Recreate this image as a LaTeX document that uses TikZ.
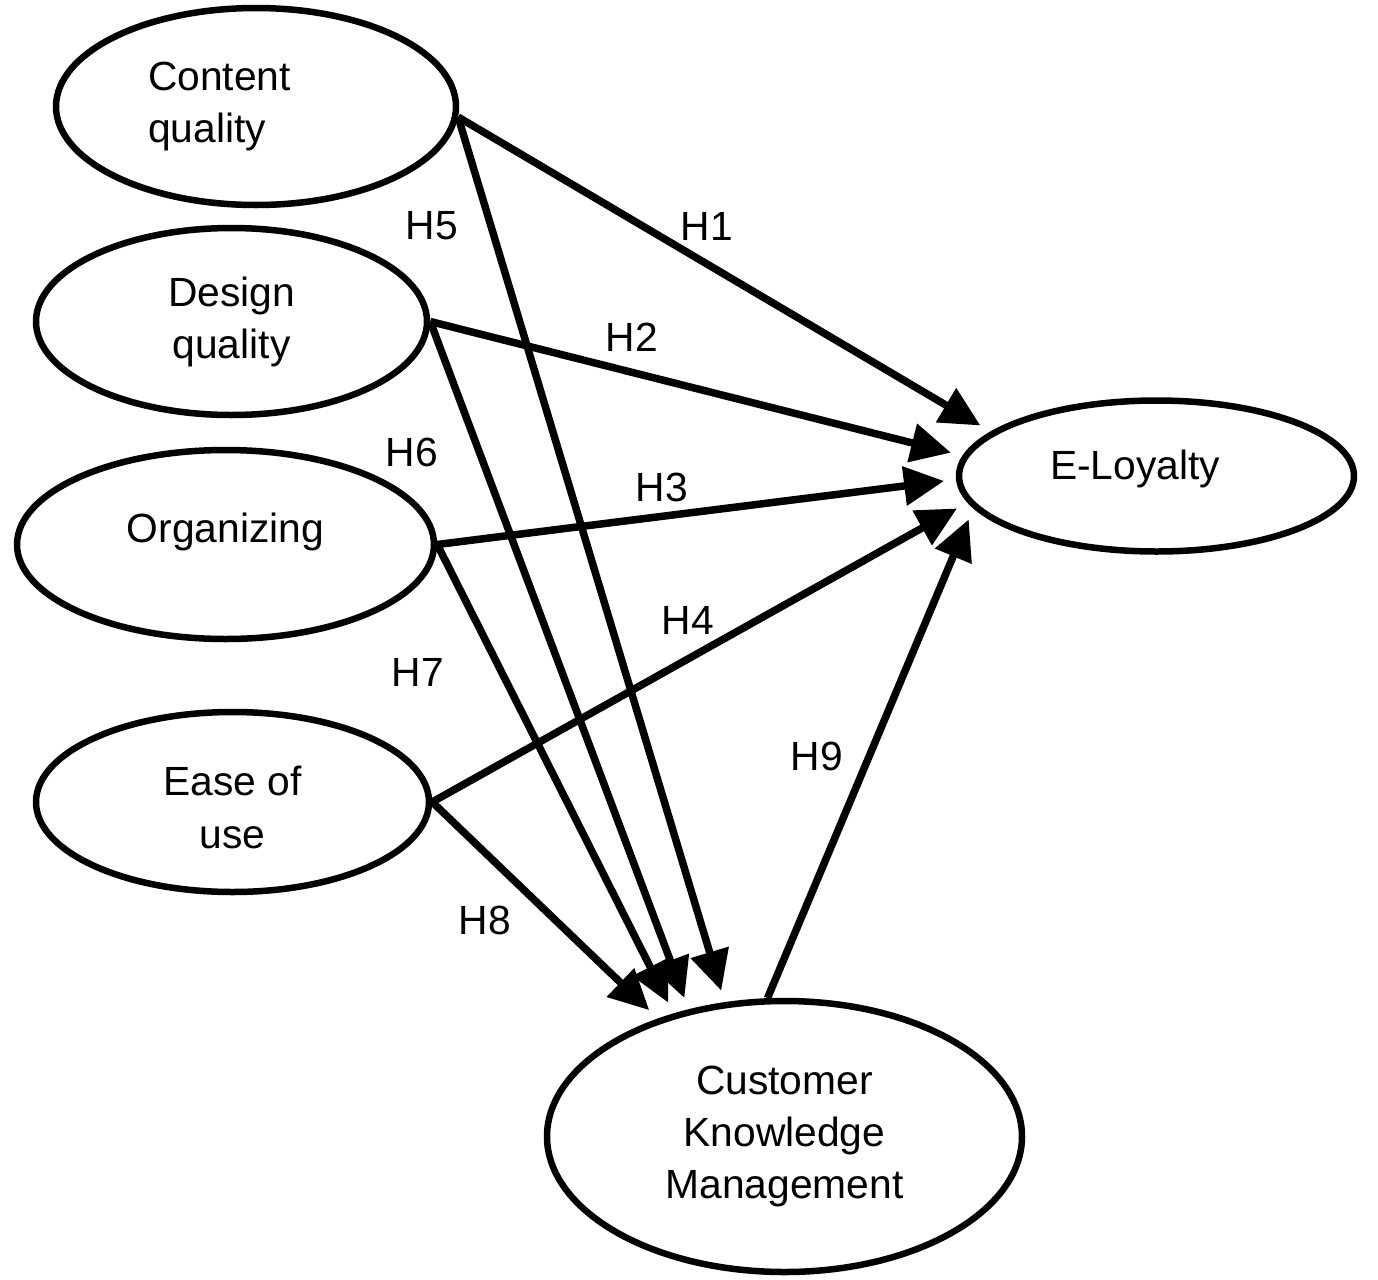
\documentclass[tikz,border=0pt]{standalone}
\usepackage{fontspec}
\setmainfont{Liberation Sans}
\usetikzlibrary{shapes.geometric,arrows.meta}
\tikzset{
	construct/.style={ellipse,draw,line width=.65mm,inner sep=0pt},
	hyp/.style={line width=.75mm,-{Triangle[length=4mm,width=3.8mm]},shorten >=1.2mm},
}
\begin{document}
\begin{tikzpicture}[x=.1mm,y=-.1mm,font=\fontsize{11.6}{14.8}\selectfont,line join=round]
	\useasboundingbox (0,0) rectangle (1378,1280);
	% constructs
	\node[construct,minimum width=40mm,minimum height=19.7mm,text width=21.6mm,align=left] (cq) at (256,106.5) {Content\\quality};
	\node[construct,minimum width=39.1mm,minimum height=18.7mm,align=center] (dq) at (231.5,321.5) {Design\\quality};
	\node[construct,minimum width=41.7mm,minimum height=18.9mm,text height=3mm,text depth=3.5mm] (org) at (225.5,544.5) {Organizing};
	\node[construct,minimum width=39.3mm,minimum height=18mm,align=center,text height=9.2mm,text depth=0mm] (eou) at (232.5,802) {Ease of\\use};
	\node[construct,minimum width=39.5mm,minimum height=15.1mm,text width=21.3mm,align=left,text height=3.3mm,text depth=2.7mm] (el) at (1156.5,476) {E-Loyalty};
	\node[construct,minimum width=47.5mm,minimum height=27.1mm,align=center] (ckm) at (784.5,1136.5) {Customer\\Knowledge\\Management};
	% hypotheses
	\draw[hyp] (cq.-3) -- (el.165);
	\draw[hyp] (dq.0) -- (el.174);
	\draw[hyp] (org.0) -- (el.181);
	\draw[hyp] (eou.0) -- (el.188);
	\draw[hyp] (cq.-3) -- (ckm.114);
	\draw[hyp] (dq.0) -- (ckm.127);
	\draw[hyp] (org.0) -- (ckm.132);
	\draw[hyp] (eou.0) -- (ckm.137);
	\draw[hyp] (ckm.97) -- (el.190);
	% labels
	\node (h1) at (707,226) {H1};
	\node (h2) at (632,337) {H2};
	\node (h3) at (662,487) {H3};
	\node (h4) at (688,620) {H4};
	\node (h5) at (432,226) {H5};
	\node (h6) at (412,452) {H6};
	\node (h7) at (418,672) {H7};
	\node (h8) at (485,920) {H8};
	\node (h9) at (817,756) {H9};
\end{tikzpicture}
\end{document}
